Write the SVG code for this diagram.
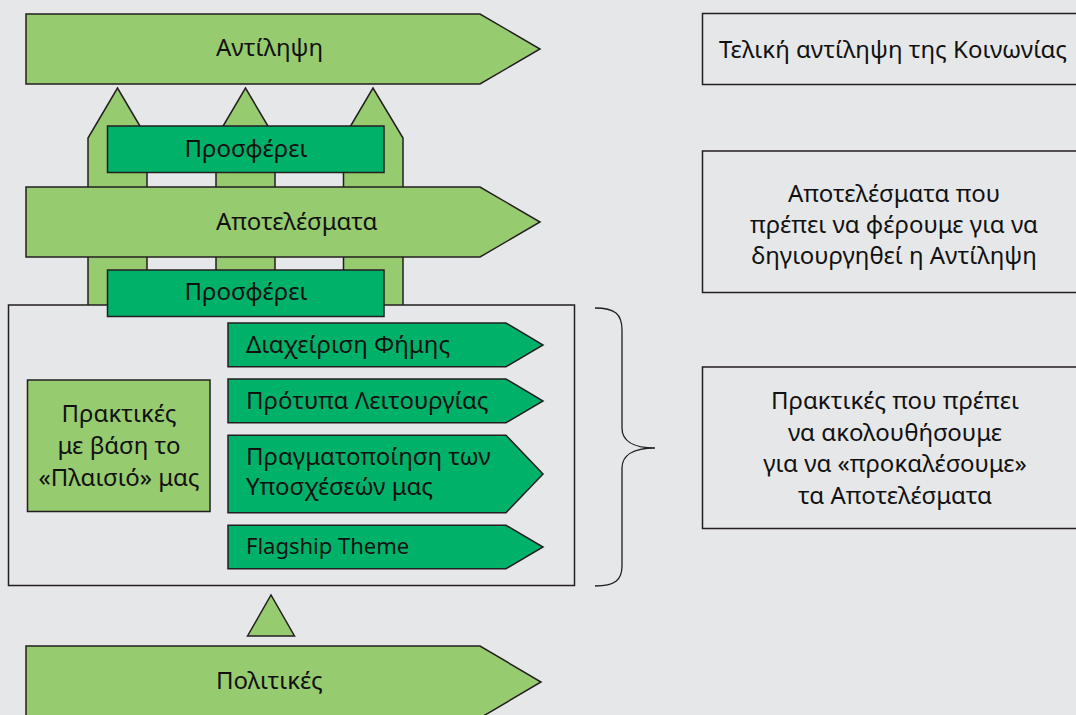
<svg xmlns="http://www.w3.org/2000/svg" width="1076" height="715" viewBox="0 0 1076 715">
<style>
.bg{fill:#e6e7e8}
.lg{fill:#97cb6f;stroke:#231f20;stroke-width:1.5}
.dg{fill:#00b16a;stroke:#231f20;stroke-width:1.5}
.box{fill:#e6e7e8;stroke:#231f20;stroke-width:1.5}
.t{font-family:"Noto Sans","Liberation Sans",sans-serif;fill:#111;font-size:24px}
.m{text-anchor:middle}
.br{fill:none;stroke:#231f20;stroke-width:1.3}
</style>
<rect class="bg" x="0" y="0" width="1076" height="715"/>
<g id="connectors">
<path class="lg" d="M88,305 V138 L117.5,88 L147,138 V305"/>
<path class="lg" d="M216,305 V138 L245.5,88 L275,138 V305"/>
<path class="lg" d="M343.5,305 V138 L373,88 L403,138 V305"/>
<path class="lg" d="M247.5,636 L271,595 L294.5,636 Z"/>
<path class="br" d="M595,308 C615,308 622,314 622,330 V428 C622,440 632,448 655,448 C632,448 622,456 622,468 V566 C622,580 615,586 595,586"/>
</g>
<g id="antilipsi">
<path class="lg" d="M26,14 H480 L540,49 L480,84 H26 Z"/>
<text class="t" x="216" y="56">Αντίληψη</text>
</g>
<g id="apotelesmata">
<path class="lg" d="M26,187 H480 L540,222 L480,257 H26 Z"/>
<text class="t" x="216" y="230">Αποτελέσματα</text>
</g>
<g id="prosferei1">
<rect class="dg" x="107.5" y="126" width="276.5" height="46.5"/>
<text class="t m" x="246" y="157">Προσφέρει</text>
</g>
<g id="praktikes-frame">
<rect class="box" x="8.5" y="305" width="566" height="280.5"/>
</g>
<g id="prosferei2">
<rect class="dg" x="107.5" y="270" width="276.5" height="46.5"/>
<text class="t m" x="246" y="300">Προσφέρει</text>
</g>
<g id="plaisio">
<rect class="lg" x="27.5" y="380" width="182.5" height="131.5"/>
<text class="t m" x="119" y="422">Πρακτικές</text>
<text class="t m" x="119" y="453.5">με βάση το</text>
<text class="t m" x="119" y="485.5">«Πλαισιό» μας</text>
</g>
<g id="fimi">
<path class="dg" d="M228,323 H506 L543,345 L506,366.7 H228 Z"/>
<text class="t" x="246" y="353">Διαχείριση Φήμης</text>
</g>
<g id="protypa">
<path class="dg" d="M228,379 H506 L543,401 L506,422.7 H228 Z"/>
<text class="t" x="246" y="409">Πρότυπα Λειτουργίας</text>
</g>
<g id="ypsoxeseis">
<path class="dg" d="M228,435.3 H506 L543,474 L506,512.7 H228 Z"/>
<text class="t" x="246" y="464.5">Πραγματοποίηση των</text>
<text class="t" x="246" y="494.5">Υποσχέσεών μας</text>
</g>
<g id="flagship">
<path class="dg" d="M228,525.3 H506 L543,547 L506,568.7 H228 Z"/>
<text class="t" x="246" y="554" style="font-size:22px">Flagship Theme</text>
</g>
<g id="politikes">
<path class="lg" d="M26,646 H480 L541,682 L480,718 H26 Z"/>
<text class="t" x="216" y="689">Πολιτικές</text>
</g>
<g id="desc1">
<rect class="box" x="702.5" y="13.5" width="390" height="71"/>
<text class="t m" x="893" y="57.5">Τελική αντίληψη της Κοινωνίας</text>
</g>
<g id="desc2">
<rect class="box" x="702.5" y="151" width="390" height="141.5"/>
<text class="t m" x="894" y="202">Αποτελέσματα που</text>
<text class="t m" x="894" y="232.5">πρέπει να φέρουμε για να</text>
<text class="t m" x="894" y="263.5">δηγιουργηθεί η Αντίληψη</text>
</g>
<g id="desc3">
<rect class="box" x="702.5" y="367" width="390" height="161.5"/>
<text class="t m" x="895" y="409">Πρακτικές που πρέπει</text>
<text class="t m" x="895" y="440.5">να ακολουθήσουμε</text>
<text class="t m" x="895" y="472">για να «προκαλέσουμε»</text>
<text class="t m" x="895" y="503.5">τα Αποτελέσματα</text>
</g>
</svg>
